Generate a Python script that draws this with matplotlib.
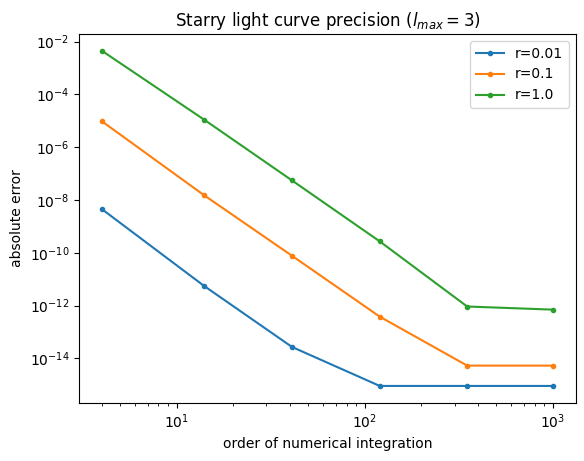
"""
Starry light curve precision vs. order of numerical integration (l_max = 3).
Values read off the reference picture.
"""

import matplotlib
matplotlib.use("Agg")
import matplotlib.pyplot as plt

# order of numerical integration
orders = [4, 14, 41, 120, 350, 1000]

# absolute error per radius ratio
err_r001 = [4.5e-9, 5.5e-12, 2.7e-14, 9.0e-16, 9.0e-16, 9.0e-16]
err_r01 = [9.6e-6, 1.5e-8, 7.7e-11, 3.8e-13, 5.3e-15, 5.3e-15]
err_r1 = [4.5e-3, 1.1e-5, 5.5e-8, 2.7e-10, 9.2e-13, 7.0e-13]

series = {
    "r=0.01": err_r001,
    "r=0.1": err_r01,
    "r=1.0": err_r1,
}

fig = plt.figure(figsize=(5.84, 4.61), dpi=100)
ax = fig.add_axes([79.3 / 584, (461 - 402.7) / 461,
                   (575.5 - 79.3) / 584, (402.7 - 34) / 461])

for label, errs in series.items():
    ax.plot(orders, errs, marker=".", label=label)

ax.set_xscale("log")
ax.set_yscale("log")
ax.set_xlabel("order of numerical integration")
ax.set_ylabel("absolute error")
ax.set_title(r"Starry light curve precision ($l_{max} = 3$)")
ax.legend(loc="upper right")

fig.savefig("out.png", dpi=100)
